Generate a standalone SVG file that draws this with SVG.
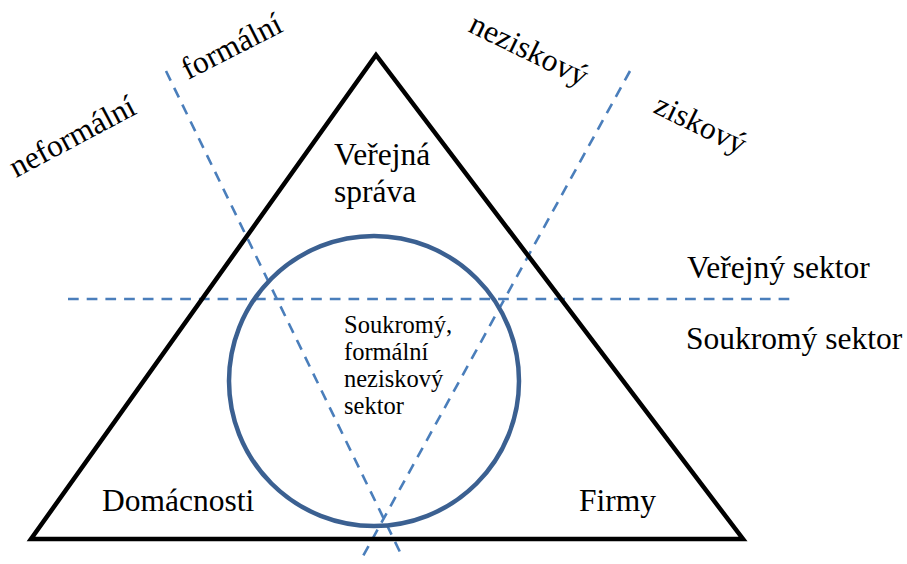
<svg xmlns="http://www.w3.org/2000/svg" width="907" height="564" viewBox="0 0 907 564">
<style>
.t{font-family:"Liberation Serif","Times New Roman",serif;fill:#000;}
.big{font-size:31.5px;}
.small{font-size:24.5px;}
.dash{stroke:#4a7ebb;stroke-width:2.6;stroke-dasharray:10.7 8;fill:none;}
</style>
<rect width="907" height="564" fill="#fff"/>
<g id="connectors">
<line class="dash" x1="68" y1="299" x2="790" y2="299"/>
<line class="dash" x1="166" y1="71" x2="400" y2="552"/>
<line class="dash" x1="630" y1="71" x2="362" y2="558"/>
</g>
<g id="triangle">
<polygon points="376,55 31,539 743,539" fill="none" stroke="#000" stroke-width="4.5" stroke-linejoin="miter"/>
</g>
<g id="circle">
<circle cx="374" cy="381" r="145" fill="none" stroke="#3b6091" stroke-width="4.5"/>
</g>
<g id="verejna-sprava">
<text class="t big" x="334" y="165">Veřejná</text>
<text class="t big" x="334" y="202">správa</text>
</g>
<g id="domacnosti"><text class="t big" x="102" y="511">Domácnosti</text></g>
<g id="firmy"><text class="t big" x="579" y="511">Firmy</text></g>
<g id="center">
<text class="t small" x="344" y="333">Soukromý,</text>
<text class="t small" x="344" y="360">formální</text>
<text class="t small" x="344" y="387">neziskový</text>
<text class="t small" x="344" y="414">sektor</text>
</g>
<g id="sektory">
<text class="t big" x="687" y="278">Veřejný sektor</text>
<text class="t big" x="686" y="349">Soukromý sektor</text>
</g>
<g id="rotated">
<text class="t big" transform="translate(16,178) rotate(-28)">neformální</text>
<text class="t big" transform="translate(188,80) rotate(-27)">formální</text>
<text class="t big" transform="translate(467,31) rotate(26)">neziskový</text>
<text class="t big" transform="translate(652,112) rotate(26)">ziskový</text>
</g>
</svg>
